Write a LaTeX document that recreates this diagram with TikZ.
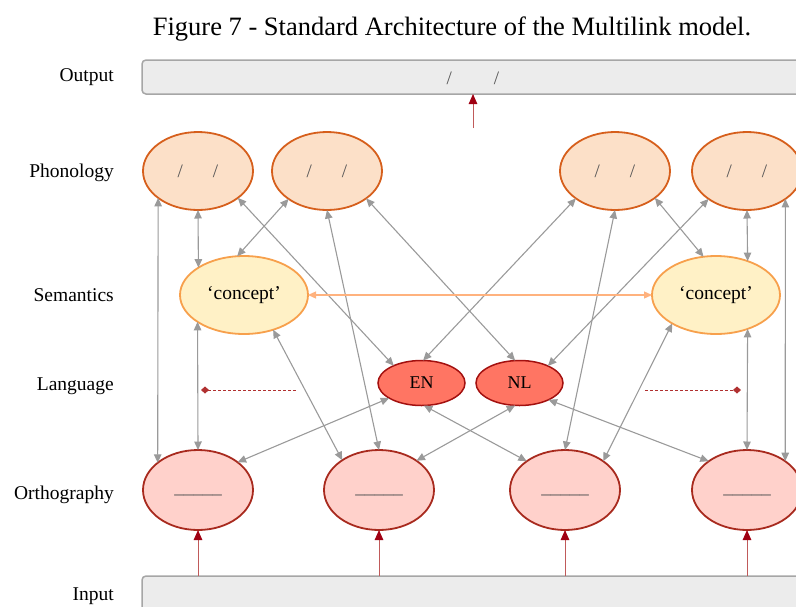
\documentclass[tikz,border=0pt]{standalone}
\usepackage{fontspec}
\setmainfont{Liberation Serif}
\usetikzlibrary{shapes.geometric,arrows.meta}

\definecolor{phonfill}{HTML}{FCE0C8}
\definecolor{phonline}{HTML}{D65F1C}
\definecolor{semfill}{HTML}{FFF1C6}
\definecolor{semline}{HTML}{F7A04C}
\definecolor{langfill}{HTML}{FF7563}
\definecolor{langline}{HTML}{A3100F}
\definecolor{orthfill}{HTML}{FFD1CB}
\definecolor{orthline}{HTML}{A82A1E}
\definecolor{boxfill}{HTML}{ECECEC}
\definecolor{boxline}{HTML}{A6A6A6}
\definecolor{linkgray}{HTML}{9A9A9A}
\definecolor{redline}{HTML}{C05A5A}
\definecolor{redhead}{HTML}{A00012}
\definecolor{dashred}{HTML}{B03030}
\definecolor{crossline}{HTML}{FFB27E}
\definecolor{glyphgray}{HTML}{555555}

\newcommand{\sz}[1]{\fontsize{#1}{#1}\selectfont}
\newcommand{\phslash}[1]{\textcolor{glyphgray}{/\hspace{#1}/}}
\newcommand{\orthbar}{\textcolor{glyphgray}{\_\_\_\_\_}}

\begin{document}
\begin{tikzpicture}[x=1pt,y=-1pt,
  unit/.style={ellipse,inner sep=0pt,outer sep=0pt,line width=1.8pt},
  phon/.style={unit,minimum width=110pt,minimum height=78pt,fill=phonfill,draw=phonline},
  sem/.style={unit,minimum width=128pt,minimum height=78pt,fill=semfill,draw=semline,font=\sz{19.5}},
  lang/.style={unit,minimum width=87pt,minimum height=45pt,fill=langfill,draw=langline,line width=1.5pt,font=\sz{18}},
  orth/.style={unit,minimum width=110pt,minimum height=80pt,fill=orthfill,draw=orthline},
  layerbox/.style={rectangle,rounded corners=4pt,fill=boxfill,draw=boxline,line width=1.5pt,inner sep=0pt,outer sep=0pt,anchor=north west},
  layerlabel/.style={anchor=base east,font=\sz{19.5},inner sep=0pt},
  link/.style={draw=linkgray,line width=1.1pt,{Triangle[length=8.5pt,width=7.5pt]}-{Triangle[length=8.5pt,width=7.5pt]}},
  crosslink/.style={draw=crossline,line width=1.3pt,{Triangle[length=8pt,width=7pt]}-{Triangle[length=8pt,width=7pt]}},
  feed/.style={draw=redline,line width=1pt,-{Triangle[length=10pt,width=8.5pt,color=redhead]}},
  dashlink/.style={draw=dashred,line width=0.8pt,dash pattern=on 3pt off 2pt}
]
\useasboundingbox (0,0) rectangle (796,606);
\clip (0,0) rectangle (796,606);

% title
\node[anchor=base,font=\sz{26.5},inner sep=0pt] (title) at (452,35)
  {Figure 7 - Standard Architecture of the Multilink model.};

% layer labels
\node[layerlabel] (lout)  at (114,81.5) {Output};
\node[layerlabel] (lphon) at (114,177.5) {Phonology};
\node[layerlabel] (lsem)  at (114,301) {Semantics};
\node[layerlabel] (llang) at (114,390) {Language};
\node[layerlabel] (lorth) at (114,499) {Orthography};
\node[layerlabel] (lin)   at (114,600) {Input};

% output and input boxes
\node[layerbox,minimum width=680pt,minimum height=34pt] (Out) at (142,60) {};
\node[font=\sz{19},inner sep=0pt] (outtxt) at (473,78) {\phslash{42pt}};
\node[layerbox,minimum width=680pt,minimum height=50pt] (In) at (142,576) {};

% phonology
\node[phon,font=\sz{19}] (P1) at (198,171) {\phslash{30pt}};
\node[phon,font=\sz{19}] (P2) at (327,171) {\phslash{30pt}};
\node[phon,font=\sz{19}] (P3) at (615,171) {\phslash{30pt}};
\node[phon,font=\sz{19}] (P4) at (747,171) {\phslash{30pt}};

% semantics
\node[sem] (S1) at (244,295) {‘concept’};
\node[sem] (S2) at (716,295) {‘concept’};

% language
\node[lang] (EN) at (421.5,383) {EN};
\node[lang] (NL) at (519.5,383) {NL};

% orthography
\node[orth,font=\sz{19}] (O1) at (198,490) {\raisebox{-10pt}{\orthbar}};
\node[orth,font=\sz{19}] (O2) at (379,490) {\raisebox{-10pt}{\orthbar}};
\node[orth,font=\sz{19}] (O3) at (565,490) {\raisebox{-10pt}{\orthbar}};
\node[orth,font=\sz{19}] (O4) at (747,490) {\raisebox{-10pt}{\orthbar}};

% vertical links
\draw[link] (P1.214) -- (O1.146);
\draw[link] (P1.south) -- (S1.149.5);
\draw[link] (S1.210.5) -- (O1.north);
\draw[link] (P4.south) -- (S2.47.7);
\draw[link] (S2.-47.7) -- (O4.north);
\draw[link] (P4.-36.6) -- (O4.37.3);

% phonology to other layers
\draw[link] (P1.-34.6) -- (EN.148.7);
\draw[link] (P2.-144) -- (S1.100);
\draw[link] (P2.south) -- (O2.north);
\draw[link] (P2.-35.3) -- (NL.101.6);
\draw[link] (P3.-145.4) -- (EN.86);
\draw[link] (P3.south) -- (O3.north);
\draw[link] (P3.-34.6) -- (S2.108);
\draw[link] (P4.-144.5) -- (NL.31.6);

% semantics to orthography
\draw[link] (S2.-147.7) -- (O3.37.7);
\draw[link] (S1.-50) -- (O2.141.6);

% language to orthography
\draw[link] (O1.35) -- (EN.-155);
\draw[link] (NL.-101.6) -- (O2.38.4);
\draw[link] (EN.-84) -- (O3.143);
\draw[link] (NL.-30.6) -- (O4.143.8);

% semantic link between languages
\draw[crosslink] (S1.east) -- (S2.west);

% language-node feedback stubs
\coordinate (dlA) at (201,390);
\coordinate (dlB) at (298,390);
\coordinate (drA) at (645,390);
\coordinate (drB) at (741,390);
\draw[dashlink,{Diamond[length=8pt,width=7pt,color=dashred]}-] (dlA) -- (dlB);
\draw[dashlink,-{Diamond[length=8pt,width=7pt,color=dashred]}] (drA) -- (drB);

% input and output feeds
\foreach \o in {O1,O2,O3,O4}
  \draw[feed] (\o.south |- In.north) -- (\o.south);
\coordinate (outsrc) at (473,128);
\draw[feed] (outsrc) -- (outsrc |- Out.south);
\end{tikzpicture}
\end{document}
